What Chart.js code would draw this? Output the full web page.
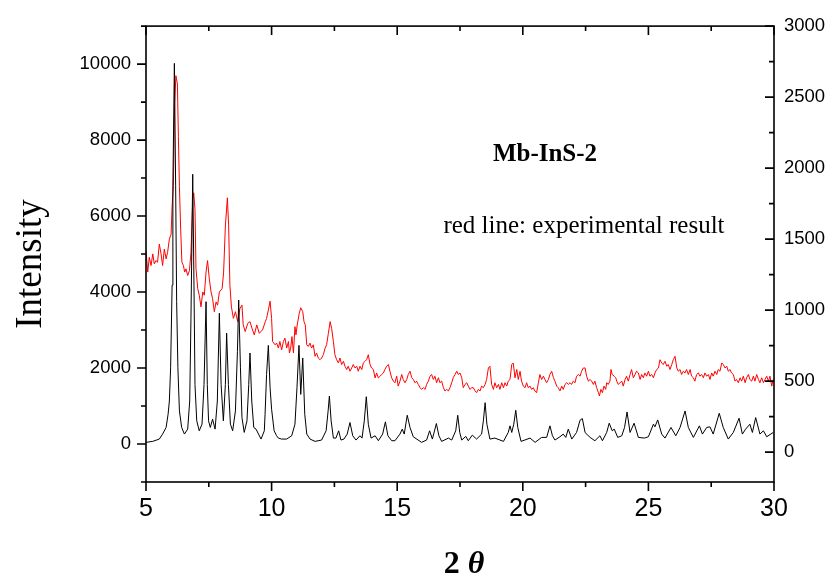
<!DOCTYPE html>
<html>
<head>
<meta charset="utf-8">
<script src="https://cdn.jsdelivr.net/npm/chart.js@4.4.1/dist/chart.umd.min.js"></script>
<style>
  body { margin: 0; background: #fff; }
  #wrap { width: 832px; height: 583px; }
</style>
</head>
<body>
<div id="wrap"><canvas id="chart" width="832" height="583"></canvas></div>
<script>
// simulated pattern (left axis)
const simTheta = [
  5.00, 5.27, 5.53, 5.66, 5.80, 5.88, 5.93, 5.98, 6.04, 6.07,
  6.13, 6.18, 6.22, 6.27, 6.33, 6.42, 6.53, 6.66, 6.74, 6.79,
  6.86, 6.91, 6.95, 7.02, 7.12, 7.23, 7.31, 7.39, 7.44, 7.49,
  7.56, 7.65, 7.75, 7.84, 7.92, 7.99, 8.08, 8.16, 8.21, 8.28,
  8.36, 8.45, 8.56, 8.64, 8.69, 8.76, 8.82, 8.91, 9.02, 9.09,
  9.14, 9.21, 9.29, 9.38, 9.58, 9.71, 9.74, 9.80, 9.87, 9.94,
  10.00, 10.10, 10.20, 10.27, 10.40, 10.60, 10.80, 10.93, 11.01, 11.09,
  11.16, 11.24, 11.32, 11.40, 11.53, 11.73, 11.99, 12.17, 12.25, 12.30,
  12.37, 12.46, 12.56, 12.67, 12.76, 12.88, 13.01, 13.12, 13.23, 13.36,
  13.52, 13.60, 13.69, 13.77, 13.85, 13.96, 14.12, 14.25, 14.42, 14.53,
  14.63, 14.78, 14.91, 15.11, 15.20, 15.28, 15.40, 15.51, 15.64, 15.97,
  16.17, 16.29, 16.40, 16.56, 16.66, 16.77, 17.04, 17.17, 17.33, 17.41,
  17.49, 17.57, 17.73, 17.83, 17.99, 18.16, 18.36, 18.43, 18.50, 18.57,
  18.69, 18.89, 19.23, 19.42, 19.49, 19.56, 19.64, 19.72, 19.80, 19.93,
  20.29, 20.49, 20.75, 20.95, 21.08, 21.18, 21.28, 21.48, 21.61, 21.71,
  21.81, 21.95, 22.14, 22.28, 22.37, 22.48, 22.68, 22.87, 23.07, 23.17,
  23.34, 23.44, 23.56, 23.64, 23.78, 23.94, 24.05, 24.15, 24.27, 24.43,
  24.60, 24.84, 25.00, 25.20, 25.26, 25.37, 25.53, 25.66, 25.90, 26.09,
  26.26, 26.46, 26.59, 26.79, 27.03, 27.15, 27.32, 27.45, 27.58, 27.82,
  27.98, 28.18, 28.38, 28.61, 28.74, 28.87, 29.04, 29.14, 29.27, 29.44,
  29.58, 29.71, 29.97
];
const simIntensity = [
  43, 70, 130, 261, 435, 784, 1132, 2004, 4182, 6796,
  10020, 6796, 3746, 2004, 871, 435, 261, 392, 1132, 3311,
  7101, 4182, 1568, 610, 348, 523, 1568, 3746, 1568, 610,
  435, 653, 392, 1132, 3442, 1568, 610, 1568, 2919, 1568,
  523, 348, 871, 2439, 3790, 2004, 697, 305, 610, 1568,
  2396, 1132, 435, 392, 130, 348, 784, 1829, 2596, 1481,
  914, 348, 217, 156, 130, 130, 217, 522, 1481, 2596,
  1306, 2265, 784, 261, 130, 69, 104, 348, 871, 1263,
  610, 156, 156, 348, 104, 130, 261, 566, 217, 104,
  217, 156, 610, 1245, 522, 156, 217, 87, 261, 583,
  217, 87, 86, 261, 391, 261, 757, 435, 191, 43,
  104, 348, 130, 539, 217, 69, 156, 104, 348, 757,
  304, 104, 200, 86, 234, 130, 261, 609, 1088, 522,
  130, 156, 69, 304, 478, 304, 522, 888, 435, 69,
  156, 43, 174, 174, 478, 217, 104, 191, 261, 174,
  391, 130, 304, 627, 670, 300, 174, 86, 217, 86,
  304, 548, 348, 391, 174, 217, 435, 844, 304, 548,
  174, 156, 191, 522, 452, 635, 261, 156, 435, 217,
  435, 870, 435, 174, 478, 261, 435, 452, 261, 809,
  435, 130, 304, 679, 261, 391, 522, 304, 696, 261,
  348, 191, 304
];

// experimental pattern (right axis)
const expTheta = [
  5.00, 5.07, 5.13, 5.20, 5.27, 5.33, 5.40, 5.46, 5.53, 5.60,
  5.66, 5.73, 5.80, 5.86, 5.93, 6.00, 6.04, 6.09, 6.14, 6.19,
  6.25, 6.29, 6.33, 6.38, 6.43, 6.49, 6.54, 6.59, 6.66, 6.73,
  6.79, 6.86, 6.90, 6.95, 6.99, 7.06, 7.12, 7.19, 7.26, 7.32,
  7.39, 7.45, 7.52, 7.59, 7.65, 7.72, 7.79, 7.85, 7.92, 8.03,
  8.09, 8.16, 8.24, 8.29, 8.34, 8.40, 8.48, 8.56, 8.65, 8.74,
  8.82, 8.87, 8.95, 9.05, 9.14, 9.22, 9.31, 9.41, 9.51, 9.64, 9.75,
  9.80, 9.87, 9.94, 10.00, 10.04, 10.14, 10.20, 10.27, 10.33, 10.40,
  10.47, 10.53, 10.60, 10.67, 10.71, 10.76, 10.81, 10.87, 10.93, 10.97,
  11.02, 11.10, 11.16, 11.24, 11.29, 11.34, 11.40, 11.46, 11.53, 11.59,
  11.66, 11.73, 11.79, 11.86, 11.93, 11.99, 12.06, 12.13, 12.19, 12.26,
  12.33, 12.39, 12.46, 12.52, 12.59, 12.66, 12.72, 12.79, 12.86, 12.92,
  12.99, 13.05, 13.12, 13.19, 13.25, 13.32, 13.39, 13.45, 13.52, 13.59,
  13.65, 13.72, 13.78, 13.85, 13.92, 13.98, 14.05, 14.12, 14.18, 14.25,
  14.32, 14.38, 14.45, 14.51, 14.58, 14.65, 14.71, 14.78, 14.85, 14.91,
  14.98, 15.04, 15.11,
  15.18, 15.24, 15.31, 15.38, 15.44, 15.51, 15.58, 15.64, 15.71, 15.77,
  15.84, 15.91, 15.97, 16.04, 16.11, 16.17, 16.24, 16.31, 16.37, 16.44,
  16.50, 16.57, 16.64, 16.70, 16.77, 16.84, 16.90, 16.97, 17.04, 17.10,
  17.17, 17.23, 17.30, 17.37, 17.43, 17.50, 17.57, 17.63, 17.70, 17.77,
  17.83, 17.90, 17.96, 18.03, 18.10, 18.16, 18.23, 18.30, 18.36, 18.43,
  18.50, 18.56, 18.63, 18.69, 18.76, 18.83, 18.89, 18.96, 19.03, 19.09,
  19.16, 19.23, 19.29, 19.36, 19.42, 19.49, 19.56, 19.62, 19.69, 19.76,
  19.82, 19.89, 19.95, 20.02, 20.09, 20.15, 20.22, 20.29, 20.35, 20.42,
  20.48, 20.55, 20.62, 20.68, 20.75, 20.82, 20.88, 20.95, 21.02, 21.08,
  21.15, 21.22, 21.28, 21.35, 21.41, 21.48, 21.55, 21.61, 21.68, 21.75,
  21.81, 21.88, 21.94, 22.01, 22.08, 22.14, 22.21, 22.28, 22.34, 22.41,
  22.48, 22.54, 22.61, 22.68, 22.74, 22.81, 22.87, 22.94, 23.01, 23.05,
  23.11, 23.17, 23.23, 23.30, 23.34, 23.40, 23.47, 23.51, 23.56, 23.64,
  23.70, 23.74, 23.80, 23.87, 23.94, 24.00, 24.07, 24.13, 24.20, 24.27,
  24.33, 24.40, 24.47, 24.53, 24.60, 24.67, 24.73, 24.80, 24.86, 24.93,
  25.00, 25.06, 25.13, 25.20, 25.26, 25.33, 25.40, 25.46, 25.53, 25.59,
  25.66, 25.73, 25.79, 25.86, 25.93, 25.99, 26.06, 26.13, 26.19, 26.26,
  26.32, 26.39, 26.46, 26.52, 26.59, 26.66, 26.72, 26.79, 26.85, 26.92,
  26.99, 27.05, 27.12, 27.19, 27.25, 27.32, 27.39, 27.45, 27.52, 27.58,
  27.65, 27.72, 27.78, 27.85, 27.92, 27.98, 28.05, 28.12, 28.18, 28.25,
  28.31, 28.38, 28.45, 28.51, 28.58, 28.65, 28.71, 28.78, 28.85, 28.91,
  28.98, 29.04, 29.11, 29.18, 29.24, 29.31, 29.38, 29.44, 29.51, 29.58,
  29.64, 29.71, 29.78, 29.84, 29.91, 29.97
];
const expCounts = [
  1419, 1268, 1372, 1314, 1396, 1326, 1349, 1337, 1465, 1396,
  1314, 1430, 1361, 1407, 1500, 1535, 1733, 1872, 2454, 2651,
  2593, 2221, 1872, 1570, 1337, 1314, 1268, 1291, 1244, 1279,
  1407, 1779, 1826, 1709, 1291, 1151, 1105, 1023, 1128, 1105,
  1268, 1349, 1221, 1128, 1082, 989, 1058, 1035, 1128, 1151,
  1268, 1593, 1791, 1593, 1175, 1023, 942, 989, 919, 1012,
  1035, 896, 849, 907, 919, 872, 826, 896, 837, 861, 919,
  942, 1000, 1063, 942, 779, 756, 768, 733, 779, 721,
  779, 803, 733, 779, 698, 733, 814, 698, 884, 826,
  896, 977, 1017, 989, 919, 896, 756, 744, 768, 733,
  756, 675, 698, 663, 651, 663, 686, 733, 756, 837,
  919, 872, 779, 686, 651, 628, 663, 617, 640, 605,
  582, 605, 570, 593, 617, 593, 605, 570, 605, 582,
  628, 640, 651, 686, 617, 593, 582, 523, 558, 523,
  535, 547, 558, 582, 605, 617, 570, 523, 500, 489,
  535, 465, 500,
  547, 512, 489, 512, 547, 570, 524, 512, 489, 500,
  477, 454, 442, 454, 442, 477, 500, 535, 547, 512,
  535, 489, 524, 489, 500, 454, 431, 442, 431, 454,
  489, 524, 547, 570, 547, 558, 524, 454, 477, 489,
  465, 442, 454, 454, 431, 419, 442, 431, 465, 454,
  477, 512, 593, 605, 477, 442, 489, 454, 477, 442,
  489, 454, 489, 465, 500, 512, 617, 628, 524, 582,
  512, 570, 500, 465, 454, 489, 454, 465, 442, 454,
  431, 419, 489, 547, 512, 535, 512, 489, 512, 547,
  570, 524, 500, 465, 454, 431, 465, 442, 477, 489,
  477, 489, 477, 500, 489, 535, 547, 535, 570, 593,
  593, 535, 500, 512, 500, 477, 500, 454, 419, 396,
  442, 419, 465, 442, 489, 477, 500, 582, 547, 535,
  524, 500, 477, 489, 500, 465, 512, 535, 500, 547,
  582, 524, 547, 570, 558, 512, 547, 524, 558, 535,
  570, 535, 547, 524, 558, 582, 593, 651, 628, 617,
  640, 605, 617, 582, 617, 651, 675, 593, 570, 582,
  547, 570, 558, 582, 547, 582, 535, 524, 500, 547,
  558, 535, 547, 524, 558, 535, 547, 512, 558, 535,
  570, 547, 582, 570, 628, 617, 593, 605, 570, 582,
  558, 547, 500, 512, 489, 524, 500, 535, 489, 524,
  547, 512, 500, 535, 500, 547, 512, 489, 524, 489,
  512, 535, 500, 535, 465, 512
];

// axis ticks
const xTicks = [5, 10, 15, 20, 25, 30];
const xMinor = [7.5, 12.5, 17.5, 22.5, 27.5];
const leftTicks = [0, 2000, 4000, 6000, 8000, 10000];
const leftMinor = [-1000, 1000, 3000, 5000, 7000, 9000, 11000];
const rightTicks = [0, 500, 1000, 1500, 2000, 2500, 3000];
const rightMinor = [250, 750, 1250, 1750, 2250, 2750];

const serif = '"Liberation Serif", "Times New Roman", serif';
const sans = '"Liberation Sans", Arial, sans-serif';

// frame, inner/outer tick marks and the free texts
const framePlugin = {
  id: 'frame',
  afterDraw(chart) {
    const { ctx, chartArea: a, scales } = chart;
    const x = scales.x, yl = scales.y, yr = scales.y2;
    ctx.save();
    ctx.strokeStyle = '#000';
    ctx.lineWidth = 1.6;
    ctx.strokeRect(a.left, a.top, a.right - a.left, a.bottom - a.top);
    ctx.beginPath();
    const tick = (x1, y1, x2, y2) => { ctx.moveTo(x1, y1); ctx.lineTo(x2, y2); };
    xTicks.forEach(v => {
      const p = x.getPixelForValue(v);
      tick(p, a.bottom, p, a.bottom + 9);
      tick(p, a.top, p, a.top + 9);
    });
    xMinor.forEach(v => {
      const p = x.getPixelForValue(v);
      tick(p, a.bottom, p, a.bottom + 5);
      tick(p, a.top, p, a.top + 5);
    });
    leftTicks.forEach(v => { const p = yl.getPixelForValue(v); tick(a.left - 9, p, a.left, p); });
    leftMinor.forEach(v => { const p = yl.getPixelForValue(v); tick(a.left - 5, p, a.left, p); });
    rightTicks.forEach(v => { const p = yr.getPixelForValue(v); tick(a.right - 9, p, a.right, p); });
    rightMinor.forEach(v => { const p = yr.getPixelForValue(v); tick(a.right - 5, p, a.right, p); });
    ctx.stroke();

    ctx.fillStyle = '#000';
    ctx.textBaseline = 'middle';
    ctx.textAlign = 'center';
    ctx.font = 'bold 25px ' + serif;
    ctx.fillText('Mb-InS-2', 545, 155);
    ctx.font = '25px ' + serif;
    ctx.fillText('red line: experimental result', 584, 226);

    ctx.save();
    ctx.translate(31, 264);
    ctx.rotate(-Math.PI / 2);
    ctx.font = '37px ' + serif;
    ctx.fillText('Intensity', 0, 0);
    ctx.restore();

    ctx.textAlign = 'left';
    ctx.font = 'bold 32px ' + serif;
    const w2 = ctx.measureText('2 ').width;
    ctx.font = 'italic bold 32px ' + serif;
    const wt = ctx.measureText('θ').width;
    let sx = 464 - (w2 + wt) / 2;
    ctx.font = 'bold 32px ' + serif;
    ctx.fillText('2 ', sx, 565);
    ctx.font = 'italic bold 32px ' + serif;
    ctx.fillText('θ', sx + w2, 565);
    ctx.restore();
  }
};

const plain = v => String(v);

const ctx = document.getElementById('chart').getContext('2d');
new Chart(ctx, {
  type: 'line',
  data: {
    datasets: [{
      label: 'simulated',
      data: simTheta.map((t, i) => ({ x: t, y: simIntensity[i] })),
      yAxisID: 'y',
      borderColor: '#000000',
      borderWidth: 1,
      pointRadius: 0,
      tension: 0,
      fill: false
    }, {
      label: 'experimental',
      data: expTheta.map((t, i) => ({ x: t, y: expCounts[i] })),
      yAxisID: 'y2',
      borderColor: '#ff0000',
      borderWidth: 1,
      pointRadius: 0,
      tension: 0,
      fill: false
    }]
  },
  options: {
    responsive: false,
    animation: false,
    devicePixelRatio: 1,
    layout: { padding: { top: 22, left: 0, right: 0, bottom: 0 } },
    plugins: { legend: { display: false }, tooltip: { enabled: false } },
    scales: {
      x: {
        type: 'linear',
        min: 5, max: 30,
        grid: { display: false, drawTicks: false },
        border: { display: false },
        afterBuildTicks: s => { s.ticks = xTicks.map(v => ({ value: v })); },
        afterFit: s => { s.height = 101; },
        ticks: { color: '#000', padding: 12, maxRotation: 0, callback: plain, font: { family: sans, size: 25 } }
      },
      y: {
        type: 'linear',
        position: 'left',
        min: -1000, max: 11000,
        grid: { display: false, drawTicks: false },
        border: { display: false },
        afterBuildTicks: s => { s.ticks = leftTicks.map(v => ({ value: v })); },
        afterFit: s => { s.width = 146; },
        ticks: { color: '#000', padding: 15, callback: plain, font: { family: sans, size: 18.5 } }
      },
      y2: {
        type: 'linear',
        position: 'right',
        min: -210, max: 3000,
        grid: { display: false, drawTicks: false },
        border: { display: false },
        afterBuildTicks: s => { s.ticks = rightTicks.map(v => ({ value: v })); },
        afterFit: s => { s.width = 58; },
        ticks: { color: '#000', padding: 10, callback: plain, font: { family: sans, size: 18.5 } }
      }
    }
  },
  plugins: [framePlugin]
});
</script>
</body>
</html>
